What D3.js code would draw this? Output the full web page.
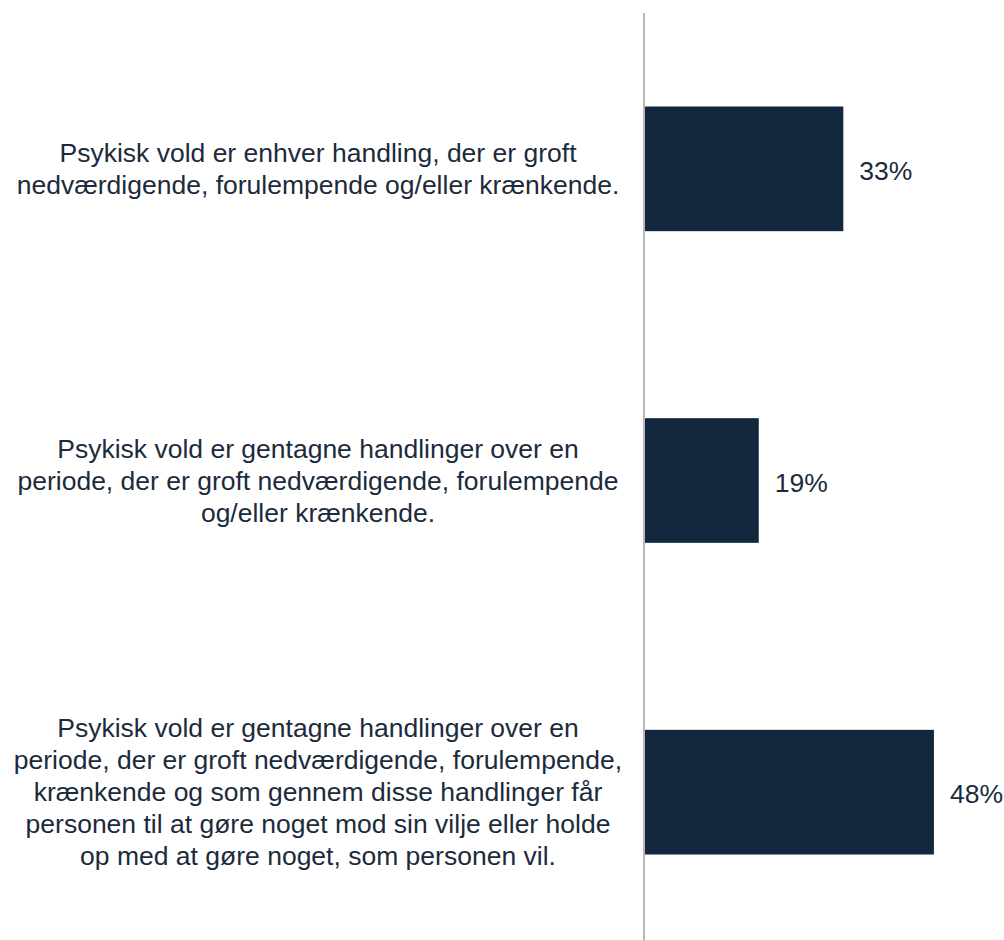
<!DOCTYPE html>
<html>
<head>
<meta charset="utf-8">
<script src="https://cdn.jsdelivr.net/npm/d3@7"></script>
<style>
  body { margin: 0; background: #fff; }
  text { font-family: "Liberation Sans", Arial, sans-serif; }
</style>
</head>
<body>
<div id="chart"></div>
<script>
// statements (each one wrapped into lines as in the original slide)
var categories = [
  ['Psykisk vold er enhver handling, der er groft',
   'nedværdigende, forulempende og/eller krænkende.'],
  ['Psykisk vold er gentagne handlinger over en',
   'periode, der er groft nedværdigende, forulempende',
   'og/eller krænkende.'],
  ['Psykisk vold er gentagne handlinger over en',
   'periode, der er groft nedværdigende, forulempende,',
   'krænkende og som gennem disse handlinger får',
   'personen til at gøre noget mod sin vilje eller holde',
   'op med at gøre noget, som personen vil.']
];
var values = [33, 19, 48];
var valueLabels = ['33%', '19%', '48%'];

var W = 1004, H = 940;
var barColor = '#13283e', textColor = '#1b2b3c';

var svg = d3.select('#chart').append('svg')
  .attr('width', W)
  .attr('height', H);

var x = d3.scaleLinear()
  .domain([0, 50])
  .range([644, 946]);

var y = d3.scaleBand()
  .domain(d3.range(categories.length))
  .range([13, 948])
  .paddingInner(0.6)
  .paddingOuter(0.3);

// BARS
svg.selectAll('rect.bar')
  .data(values)
  .enter().append('rect')
    .attr('class', 'bar')
    .attr('x', x(0))
    .attr('y', function(d, i) { return y(i); })
    .attr('width', function(d) { return x(d) - x(0); })
    .attr('height', y.bandwidth())
    .attr('fill', barColor);

// VALUE LABELS
svg.selectAll('text.val')
  .data(values)
  .enter().append('text')
    .attr('class', 'val')
    .attr('x', function(d) { return x(d) + 16; })
    .attr('y', function(d, i) { return y(i) + y.bandwidth() / 2 + 4; })
    .attr('dominant-baseline', 'middle')
    .attr('font-size', 26.5)
    .attr('fill', textColor)
    .text(function(d, i) { return valueLabels[i]; });

// CATEGORY LABELS
var lineH = 32;
var labels = svg.selectAll('text.cat')
  .data(categories)
  .enter().append('text')
    .attr('class', 'cat')
    .attr('text-anchor', 'middle')
    .attr('font-size', 26.5)
    .attr('fill', textColor);

labels.each(function(lines, i) {
  var cy = y(i) + y.bandwidth() / 2 + 2;
  var top = cy - (lines.length - 1) * lineH / 2;
  d3.select(this).selectAll('tspan')
    .data(lines)
    .enter().append('tspan')
      .attr('x', 318)
      .attr('y', function(d, j) { return top + j * lineH; })
      .attr('dominant-baseline', 'middle')
      .text(function(d) { return d; });
});

// AXIS LINE
svg.append('line')
  .attr('x1', x(0)).attr('x2', x(0))
  .attr('y1', 13).attr('y2', H)
  .attr('stroke', '#b7b7b7')
  .attr('stroke-width', 2);
</script>
</body>
</html>
